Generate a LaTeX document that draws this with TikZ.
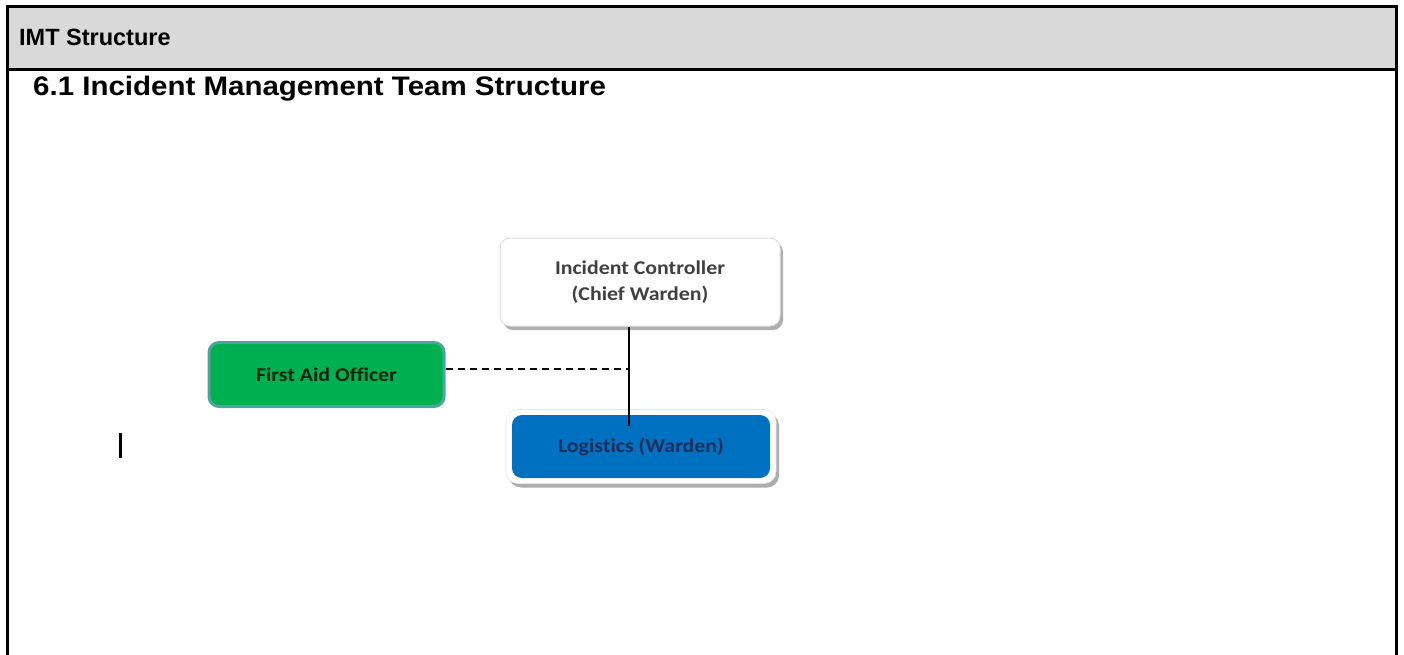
\documentclass[tikz,border=0pt]{standalone}
\usepackage{fontspec}
\setmainfont{Liberation Sans}
\newfontfamily\hfont[FakeStretch=1.1]{Liberation Sans}
\newfontfamily\boxfont[FakeStretch=1.12, Ligatures={NoCommon}]{Carlito}
\usetikzlibrary{shadows,calc}
\definecolor{hdrgray}{HTML}{D9D9D9}
\definecolor{fagreen}{HTML}{00B050}
\definecolor{fateal}{HTML}{4AA89A}
\definecolor{logblue}{HTML}{0070C0}
\definecolor{navytext}{HTML}{1F2F5A}
\definecolor{ictext}{HTML}{404040}
\tikzset{
  frame/.style={line width=3pt, line cap=rect},
  boxbase/.style={rounded corners=10pt, align=center, font=\boxfont\bfseries\fontsize{19.5}{26}\selectfont},
  icbox/.style={boxbase, fill=white, draw=black!12, line width=1pt, text=ictext,
     drop shadow={shadow xshift=3pt, shadow yshift=-4pt, fill=black!45, opacity=0.7},
     minimum width=280pt, minimum height=88pt},
  fabox/.style={boxbase, fill=fagreen, draw=fateal, line width=3pt, text=black!80!fagreen,
     minimum width=235pt, minimum height=64pt},
  logouter/.style={rounded corners=12pt, fill=white, draw=black!10, line width=0.6pt,
     drop shadow={shadow xshift=3pt, shadow yshift=-4pt, fill=black!45, opacity=0.7},
     minimum width=270pt, minimum height=74pt},
  logbox/.style={boxbase, fill=logblue, text=navytext, minimum width=258pt, minimum height=63pt},
  conn/.style={line width=1.2pt, black},
  dconn/.style={line width=1.2pt, black, dash pattern=on 7pt off 5pt}
}
\begin{document}
\begin{tikzpicture}[x=1pt,y=1pt]
\useasboundingbox (0,0) rectangle (1404,-655);
\fill[white] (0,0) rectangle (1404,-655);
% header band
\fill[hdrgray] (7,-6.5) rectangle (1396,-70);
\draw[frame] (7,-655) -- (7,-6.5) -- (1396,-6.5) -- (1396,-655);
\draw[frame] (7,-70) -- (1396,-70);
\node[anchor=base west, font=\bfseries\fontsize{23.5}{27}\selectfont, inner sep=0] (hdr) at (19,-46) {IMT Structure};
\node[anchor=base west, font=\hfont\bfseries\fontsize{26.8}{31}\selectfont, inner sep=0] (title) at (33,-96) {6.1 Incident Management Team Structure};
% boxes
\node[icbox] (ic) at (640,-282) {Incident Controller\\(Chief Warden)};
\node[fabox] (fa) at (326.5,-374.5) {First Aid Officer};
\node[logouter] (logo) at (641,-446.5) {};
\node[logbox] (log) at (641,-446.5) {Logistics (Warden)};
% connectors
\coordinate (j) at (629,-369);
\coordinate (lend) at (629,-426);
\draw[conn] (ic.south -| j) -- (lend);
\draw[dconn] (fa.east |- j) -- (j);
% text cursor
\draw[line width=3pt] (120,-433) -- (120,-458);
\end{tikzpicture}
\end{document}
